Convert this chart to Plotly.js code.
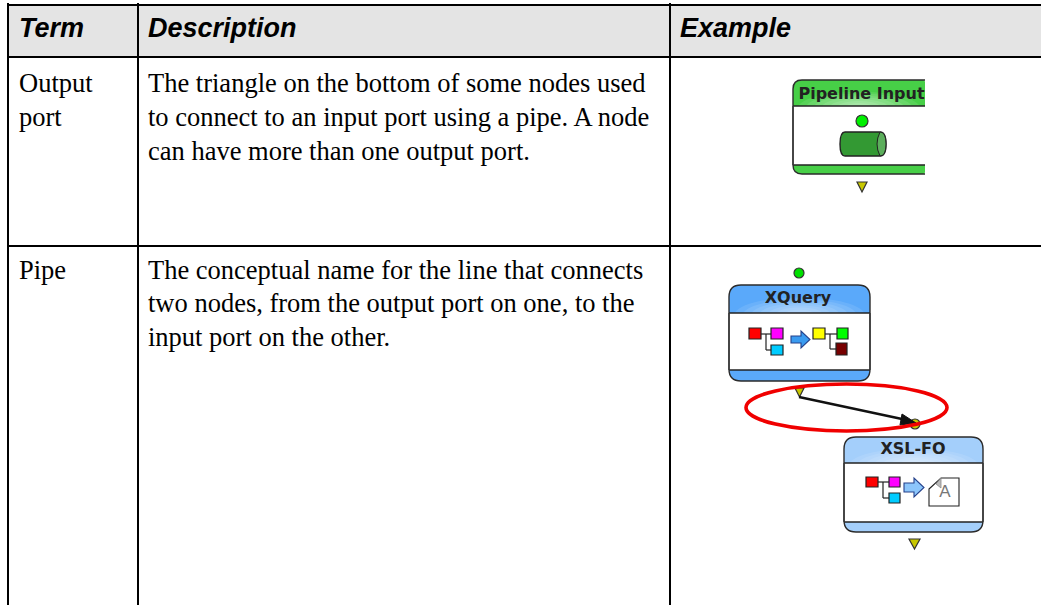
<!DOCTYPE html>
<html>
<head>
<meta charset="utf-8">
<script src="https://cdn.plot.ly/plotly-3.0.1.min.js"></script>
<style>html,body{margin:0;padding:0;background:#fff;overflow:hidden}#chart{width:1041px;height:605px}</style>
</head>
<body>
<div id="chart"></div>
<script>
// Table content
const headers = ["Term", "Description", "Example"];
const terms = [["Output", "port"], ["Pipe"]];
const descriptions = [
  ["The triangle on the bottom of some nodes used", "to connect to an input port using a pipe. A node", "can have more than one output port."],
  ["The conceptual name for the line that connects", "two nodes, from the output port on one, to the", "input port on the other."]
];
const nodeTitles = ["Pipeline Input", "XQuery", "XSL-FO"];

// Layout grid (page pixels)
const columnLeft = [8, 138, 670];
const textLeft = [19, 148, 680];
const headerTop = 5, headerBottom = 57, rowLine = 246, pageW = 1041, pageH = 605;
const headerY = 30;
const rowTextTop = [85.5, 272];
const lineStep = 33.8;

const BLACK = "#000";
const shapes = [];
const rect = (x0, y0, x1, y1, fill, line, w) => shapes.push({type:"rect", layer:"below", x0, y0, x1, y1, fillcolor:fill, line:{color:line||fill, width:line?(w||1):0}});
const seg = (x0, y0, x1, y1, color, w) => shapes.push({type:"line", layer:"below", x0, y0, x1, y1, line:{color, width:w}});
const circle = (cx, cy, r, fill, line, w) => shapes.push({type:"circle", layer:"below", x0:cx-r, y0:cy-r, x1:cx+r, y1:cy+r, fillcolor:fill, line:{color:line, width:w}});
const path = (d, fill, line, w) => shapes.push({type:"path", layer:"below", path:d, fillcolor:fill||"rgba(0,0,0,0)", line:{color:line||"rgba(0,0,0,0)", width:line?w:0}});

// Table frame
rect(columnLeft[0], headerTop, pageW, headerBottom, "#e4e4e4");
seg(columnLeft[0], 3, columnLeft[0], pageH, BLACK, 2);
seg(columnLeft[1], 3, columnLeft[1], pageH, BLACK, 2);
seg(columnLeft[2], 3, columnLeft[2], pageH, BLACK, 2);
seg(columnLeft[0], headerTop, pageW, headerTop, BLACK, 2);
seg(columnLeft[0], headerBottom, pageW, headerBottom, BLACK, 2);
seg(columnLeft[0], rowLine, pageW, rowLine, BLACK, 2);

// A node: rounded top band, white body, rounded bottom band
function node(x0, x1, y0, y1, y2, y3, band, glow, r, openRight) {
  const rr = openRight ? 2 : r;
  path(`M${x0},${y1} L${x0},${y0+r} Q${x0},${y0} ${x0+r},${y0} L${x1-rr},${y0} Q${x1},${y0} ${x1},${y0+rr} L${x1},${y1} Z`, band);
  const mx = (x0 + x1) / 2, hw = (x1 - x0) / 2;
  [.92,.8,.68,.56,.44,.32,.2].forEach(a => {
    const h = (y1 - y0) * a * .8, w = hw * a;
    path(`M${mx-w},${y1} C${mx-w*.8},${y1-h} ${mx+w*.8},${y1-h} ${mx+w},${y1} Z`, glow);
  });
  rect(x0, y1, x1, y2, "#fff");
  path(`M${x0},${y2} L${x0},${y3-r} Q${x0},${y3} ${x0+r},${y3} L${x1-rr},${y3} Q${x1},${y3} ${x1},${y3-rr} L${x1},${y2} Z`, band);
  seg(x0, y1, x1, y1, "#222", 1.4);
  seg(x0, y2, x1, y2, "#222", 1.4);
  seg(x0, y1, x0, y2, "#555", 1.4);
  if (!openRight) seg(x1, y1, x1, y2, "#555", 1.4);
  const end = openRight
    ? `M${x1},${y0} L${x0+r},${y0} Q${x0},${y0} ${x0},${y0+r} L${x0},${y3-r} Q${x0},${y3} ${x0+r},${y3} L${x1},${y3}`
    : `M${x0+r},${y0} Q${x0},${y0} ${x0},${y0+r} L${x0},${y3-r} Q${x0},${y3} ${x0+r},${y3} L${x1-r},${y3} Q${x1},${y3} ${x1},${y3-r} L${x1},${y0+r} Q${x1},${y0} ${x1-r},${y0} Z`;
  path(end, null, "#2b2b2b", 1.4);
}
const triangle = (x0, x1, y0, y1) => path(`M${x0},${y0} L${x1},${y0} L${(x0+x1)/2},${y1} Z`, "#c8c800", "#333", 1.2);
function sq(x0, y0, x1, y1, fill) { rect(x0, y0, x1, y1, fill, "#222", 1.2); }
function blueArrow(x0, x1, xh, y0, y1, s0, s1, fill) {
  const cy = (y0 + y1) / 2;
  path(`M${x0},${s0} L${xh},${s0} L${xh},${y0} L${x1},${cy} L${xh},${y1} L${xh},${s1} L${x0},${s1} Z`, fill, "#24408a", 1.1);
}

// Pipeline Input node
node(793, 925, 80, 106, 165, 174, "#47cf47", "rgba(255,255,255,.1)", 9, true);
circle(862, 121, 6, "#00f000", "#333", 1.2);
path("M845,132 L880,132 Q886,132 886,144 Q886,156 880,156 L845,156 Q840,156 840,144 Q840,132 845,132 Z", "#339933", "#222", 1.4);
path("M880,132 Q874,144 880,156 Q886,156 886,144 Q886,132 880,132 Z", "#5cae5c", "#222", 1);
triangle(857, 867, 182, 192);

// XQuery node
circle(799, 273, 5, "#00e000", "#333", 1.2);
node(729, 870, 285, 313, 370, 381, "#5aa9fa", "rgba(255,255,255,.1)", 12, false);
seg(761, 334, 771, 334, "#222", 1.2);
seg(766, 334, 766, 350, "#222", 1.2);
seg(766, 350, 771, 350, "#222", 1.2);
seg(825, 334, 837, 334, "#222", 1.2);
seg(830, 334, 830, 349, "#222", 1.2);
seg(830, 349, 836, 349, "#222", 1.2);
sq(749, 328, 761, 339, "#ff0000");
sq(771, 328, 783, 339, "#ff00ff");
sq(771, 345, 783, 355, "#00ccff");
sq(813, 328, 825, 339, "#ffff00");
sq(837, 328, 848, 339, "#00ff00");
sq(836, 343, 847, 355, "#770000");
blueArrow(791, 810, 801, 331, 348, 336, 343, "#3a9bf0");

// Pipe and its highlight
triangle(795, 804, 388, 397);
circle(915, 424, 5, "#c8c800", "#333", 1.2);
seg(799, 397, 909, 420.5, "#111", 2.4);
path("M902,414 L916,423 L900,425 Z", "#111", "#111", 1);
shapes.push({type:"circle", layer:"below", x0:746, y0:384, x1:947, y1:431, fillcolor:"rgba(0,0,0,0)", line:{color:"#f00000", width:3.6}});

// XSL-FO node
node(844, 983, 437, 463, 522, 532, "#a4cffb", "rgba(255,255,255,.1)", 12, false);
seg(878, 482, 889, 482, "#222", 1.2);
seg(883, 482, 883, 498, "#222", 1.2);
seg(883, 498, 889, 498, "#222", 1.2);
sq(866, 477, 878, 487, "#ff0000");
sq(889, 477, 900, 487, "#ff00ff");
sq(889, 493, 900, 503, "#00ccff");
blueArrow(904, 924, 914, 478, 497, 483, 492, "#8cc6fb");
path("M929,489 L941,478 L959,478 L959,506 L929,506 Z", "#fff", "#222", 1.1);
path("M936,484 L941,478 L941,488 Z", "#bbb", "#888", .8);
triangle(909, 920, 539, 549);

// Text traces
const headSerif = "Liberation Serif, serif", headSans = "Liberation Sans, Arial, sans-serif";
const bodyX = [], bodyY = [], bodyT = [];
terms.forEach((lines, r) => lines.forEach((t, i) => { bodyX.push(textLeft[0]); bodyY.push(rowTextTop[r] + i * lineStep); bodyT.push(t); }));
descriptions.forEach((lines, r) => lines.forEach((t, i) => { bodyX.push(textLeft[1]); bodyY.push(rowTextTop[r] + i * lineStep); bodyT.push(t); }));

const traces = [
  {type:"scatter", mode:"text", x:textLeft, y:[headerY, headerY, headerY], text:headers.map(h => "<b><i>" + h + "</i></b>"),
   textposition:"middle right", textfont:{family:headSans, size:27, color:"#000"}, hoverinfo:"skip", showlegend:false},
  {type:"scatter", mode:"text", x:bodyX, y:bodyY, text:bodyT,
   textposition:"middle right", textfont:{family:headSerif, size:26.5, color:"#000"}, hoverinfo:"skip", showlegend:false},
  {type:"scatter", mode:"text", x:[861.5, 798, 913], y:[95, 299, 450], text:nodeTitles.map(t => "<b>" + t + "</b>"),
   textposition:"middle center", textfont:{family:"DejaVu Sans, sans-serif", size:16, color:"#222"}, hoverinfo:"skip", showlegend:false},
  {type:"scatter", mode:"text", x:[945], y:[493], text:["A"], textposition:"middle center",
   textfont:{family:headSans, size:17, color:"#777"}, hoverinfo:"skip", showlegend:false}
];

const hidden = {visible:false, fixedrange:true, autorange:false};
Plotly.newPlot("chart", traces, {
  width: pageW, height: pageH,
  margin: {l:0, r:0, t:0, b:0, pad:0},
  paper_bgcolor: "#fff", plot_bgcolor: "#fff",
  showlegend: false, hovermode: false,
  xaxis: Object.assign({range:[0, pageW]}, hidden),
  yaxis: Object.assign({range:[pageH, 0]}, hidden),
  shapes
}, {displayModeBar:false, staticPlot:true});
</script>
</body>
</html>
